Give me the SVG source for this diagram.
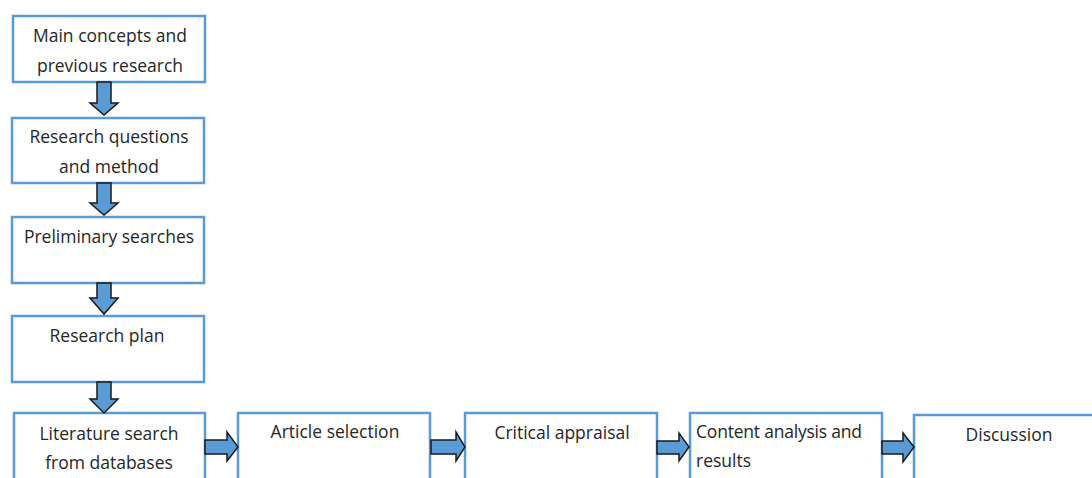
<svg xmlns="http://www.w3.org/2000/svg" width="1092" height="478" viewBox="0 0 1092 478">
<style>
.box{fill:#fff;stroke:#5B9BD5;stroke-width:2.5}
.t{font-family:"Open Sans","Liberation Sans",sans-serif;font-size:17.5px;fill:#262626}
.c{text-anchor:middle}
.arr{fill:#5B9BD5;stroke:#1a1a1a;stroke-width:1.5;stroke-linejoin:miter}
</style>
<rect width="1092" height="478" fill="#fff"/>
<g id="n1"><rect class="box" x="13" y="16" width="192" height="66"/>
<text class="t c" x="110" y="42">Main concepts and</text><text class="t c" x="110" y="72">previous research</text></g>
<g id="n2"><rect class="box" x="12" y="118" width="192" height="65"/>
<text class="t c" x="109" y="143">Research questions</text><text class="t c" x="109" y="173">and method</text></g>
<g id="n3"><rect class="box" x="12" y="217" width="192" height="66"/>
<text class="t c" x="109" y="243">Preliminary searches</text></g>
<g id="n4"><rect class="box" x="12" y="316" width="192" height="66"/>
<text class="t c" x="107" y="342">Research plan</text></g>
<g id="n5"><rect class="box" x="14" y="413" width="191" height="80"/>
<text class="t c" x="109" y="440">Literature search</text><text class="t c" x="109" y="469">from databases</text></g>
<g id="n6"><rect class="box" x="238" y="413" width="192" height="80"/>
<text class="t c" x="335" y="438">Article selection</text></g>
<g id="n7"><rect class="box" x="465" y="413" width="192" height="80"/>
<text class="t c" x="562" y="439">Critical appraisal</text></g>
<g id="n8"><rect class="box" x="690" y="413" width="192" height="80"/>
<text class="t" x="696" y="438" textLength="166" lengthAdjust="spacing">Content analysis and</text><text class="t" x="696" y="467">results</text></g>
<g id="n9"><rect class="box" x="914" y="415" width="190" height="80"/>
<text class="t c" x="1009" y="441">Discussion</text></g>
<g id="connectors">
<polygon class="arr" points="97,82 111,82 111,103 118,103 104,115 90,103 97,103"/>
<polygon class="arr" points="97,183 111,183 111,203 118,203 104,215 90,203 97,203"/>
<polygon class="arr" points="97,283 111,283 111,298 118,298 104,314 90,298 97,298"/>
<polygon class="arr" points="97,382 111,382 111,399 118,399 104,413 90,399 97,399"/>
<polygon class="arr" points="205,440 227,440 227,432 238,447 227,461 227,454 205,454"/>
<polygon class="arr" points="431,440 456,440 456,432 465,447 456,461 456,454 431,454"/>
<polygon class="arr" points="657,441 679,441 679,433 689,447 679,461 679,454 657,454"/>
<polygon class="arr" points="882,441 903,441 903,433 914,447 903,462 903,454 882,454"/>
</g>
</svg>
